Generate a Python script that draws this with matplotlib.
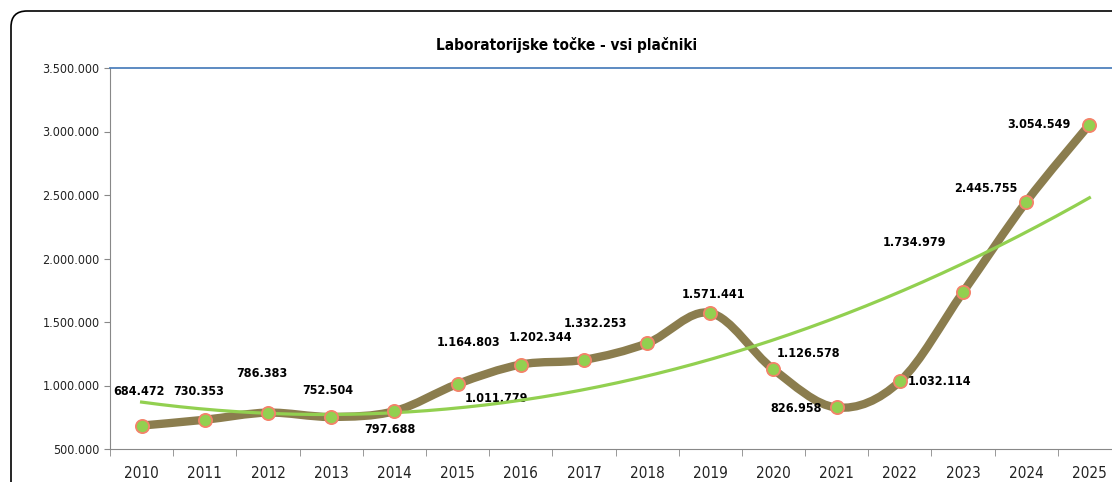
import numpy as np
import matplotlib
matplotlib.use('Agg')
import matplotlib.pyplot as plt
from matplotlib.path import Path
from matplotlib.patches import PathPatch, FancyBboxPatch
from matplotlib.ticker import FuncFormatter, FixedLocator
from matplotlib.transforms import IdentityTransform
from matplotlib import font_manager

# Data
years = ['2010', '2011', '2012', '2013', '2014', '2015', '2016', '2017',
         '2018', '2019', '2020', '2021', '2022', '2023', '2024', '2025']
points = [684472, 730353, 786383, 752504, 797688, 1011779, 1164803, 1202344,
          1332253, 1571441, 1126578, 826958, 1032114, 1734979, 2445755, 3054549]

# label offsets in pixels (dx right, dy up) to mimic where Excel put them
label_offsets = [(-3, 34), (-6, 28), (-6, 39), (-3, 26), (-4, -18), (39, -14),
                 (-52, 22), (-43, 22), (-52, 20), (3, 18), (35, 16), (-41, -1),
                 (40, 0), (-49, 50), (-40, 13), (-50, 0)]

# condensed font if one is around, otherwise plain Liberation Sans
names = {f.name for f in font_manager.fontManager.ttflist}
cond = [f for f in font_manager.fontManager.ttflist
        if f.name == 'DejaVu Sans' and f.stretch in ('condensed', 'semi-condensed', 600, 500)]
if 'Liberation Sans Narrow' in names:
    plt.rcParams['font.family'] = ['Liberation Sans Narrow', 'DejaVu Sans']
elif cond:
    plt.rcParams['font.family'] = ['DejaVu Sans']
    plt.rcParams['font.stretch'] = 'condensed'
else:
    plt.rcParams['font.family'] = ['Liberation Sans', 'DejaVu Sans']

line_color = '#8B7D4E'
marker_face = '#92D050'
marker_edge = '#F4826A'
trend_color = '#92D050'

fig = plt.figure(figsize=(11.12, 4.82), dpi=100)
ax = fig.add_axes([110 / 1112, 1 - 449 / 482, 1011 / 1112, 381 / 482])

x = np.arange(len(points))
y = np.array(points, dtype=float)

# smoothed line, Excel-style (Catmull-Rom as cubic Bezier segments)
P = np.column_stack([x, y])
verts = [P[0]]
codes = [Path.MOVETO]
n = len(P)
for i in range(n - 1):
    p0 = P[max(i - 1, 0)]
    p1 = P[i]
    p2 = P[i + 1]
    p3 = P[min(i + 2, n - 1)]
    c1 = p1 + (p2 - p0) / 6
    c2 = p2 - (p3 - p1) / 6
    verts += [c1, c2, p2]
    codes += [Path.CURVE4] * 3
ax.add_patch(PathPatch(Path(verts, codes), facecolor='none', edgecolor=line_color,
                       lw=6, capstyle='round', joinstyle='round', zorder=2))

# polynomial trend (order 2)
coef = np.polyfit(x + 1, y, 2)
xt = np.linspace(0, len(points) - 1, 200)
ax.plot(xt, np.polyval(coef, xt + 1), color=trend_color, lw=2.3, zorder=4)

ax.plot(x, y, 'o', ms=9.5, mfc=marker_face, mec=marker_edge, mew=1.3, zorder=5)

for xi, yi, (dx, dy) in zip(x, points, label_offsets):
    lab = f'{yi:,}'.replace(',', '.')
    ax.annotate(lab, (xi, yi), xytext=(dx, dy), textcoords='offset pixels',
                ha='center', va='center', fontsize=9, fontweight='bold',
                color='black', zorder=3)

ax.set_xlim(-0.5, len(points) - 0.5)
ax.set_ylim(500000, 3500000)
ax.set_yticks(np.arange(500000, 3500001, 500000))
ax.yaxis.set_major_formatter(FuncFormatter(lambda v, p: f'{int(v):,}'.replace(',', '.')))
ax.set_xticks(x)
ax.set_xticklabels(years)
ax.xaxis.set_minor_locator(FixedLocator(np.arange(-0.5, len(points), 1.0)))
ax.tick_params(axis='x', which='major', length=0, pad=12, labelsize=11, colors='#222222')
ax.tick_params(axis='x', which='minor', length=5, color='#888888', direction='out')
ax.tick_params(axis='y', length=4, color='#888888', labelsize=9, labelcolor='#222222')

ax.spines['right'].set_visible(False)
ax.spines['left'].set_color('#888888')
ax.spines['bottom'].set_color('#888888')
ax.spines['top'].set_color('#4F81BD')
ax.spines['top'].set_linewidth(1.3)

fig.text(567 / 1112, 1 - 45 / 482, 'Laboratorijske točke - vsi plačniki',
         ha='center', va='center', fontsize=11, fontweight='bold')

# rounded chart frame in pixels, cut off at right and bottom like in the screenshot
frame = FancyBboxPatch((11, -30), 1200, 482 - 11 + 30,
                       boxstyle='round,pad=0,rounding_size=16',
                       transform=IdentityTransform(), facecolor='none',
                       edgecolor='black', lw=1.2, zorder=0)
fig.patches.append(frame)

fig.savefig('out.png', dpi=100)
